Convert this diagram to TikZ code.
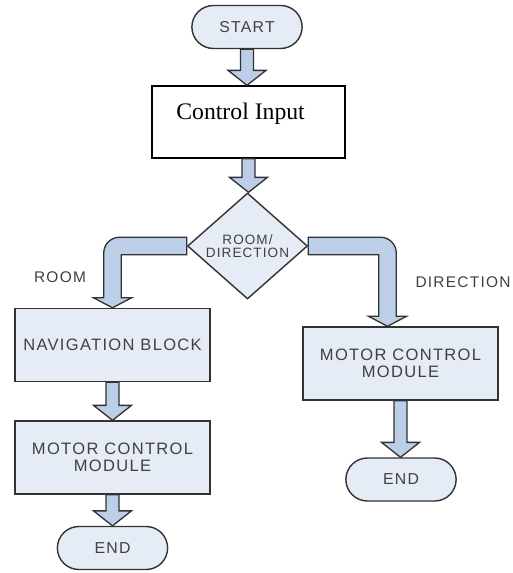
\documentclass[tikz,border=0pt]{standalone}
\usepackage{fontspec}
\setmainfont{Liberation Serif}
\setsansfont{Liberation Sans}[LetterSpace=8]
\usetikzlibrary{shapes.geometric,shapes.misc,calc}
\definecolor{boxfill}{RGB}{230,236,246}
\definecolor{arrowfill}{RGB}{188,206,232}
\definecolor{edgegray}{RGB}{50,50,50}
\definecolor{textgray}{RGB}{64,64,64}
\tikzstyle{terminal}=[rounded rectangle,draw=edgegray,fill=boxfill,line width=0.8pt,minimum width=2.44cm,minimum height=0.86cm,text=textgray,font=\sffamily\fontsize{9}{11}\selectfont]
\tikzstyle{process}=[rectangle,draw=edgegray,fill=boxfill,line width=0.8pt,minimum width=3.9cm,minimum height=1.46cm,align=center,text=textgray,font=\sffamily\fontsize{9.4}{9.8}\selectfont]
\tikzstyle{inputbox}=[rectangle,draw=black,fill=white,line width=0.8pt,minimum width=3.86cm,minimum height=1.44cm,font=\fontsize{13.5}{15}\selectfont,text height=9.5pt,text depth=12pt]
\tikzstyle{decision}=[diamond,draw=edgegray,fill=boxfill,line width=0.8pt,minimum width=2.4cm,minimum height=2.04cm,inner sep=0pt,align=center,text=textgray,font=\sffamily\fontsize{7.7}{7.4}\selectfont]
\tikzstyle{blockarrow}=[draw=edgegray,fill=arrowfill,line width=0.75pt,line join=miter]
\tikzstyle{branchlabel}=[font=\sffamily\fontsize{8.8}{11}\selectfont,text=textgray]

% straight block arrow from the bottom of one node to the top of the next
\newcommand{\blockdown}[2]{%
  \path[blockarrow] let \p1=(#1.south), \p2=(#2.north) in
    (\x1-3.7pt,\y1) -- (\x1+3.7pt,\y1) -- (\x1+3.7pt,\y2+8.5pt) -- (\x1+10.8pt,\y2+8.5pt)
    -- (\x1,\y2) -- (\x1-10.8pt,\y2+8.5pt) -- (\x1-3.7pt,\y2+8.5pt) -- cycle;}

\begin{document}
\begin{tikzpicture}[x=0.02cm,y=-0.02cm]
    \useasboundingbox (0,0) rectangle (512,573);

    % First we draw the terminals
    \foreach \pos/\name/\label in {{(247,27)/start/START}, {(112.5,548)/lend/END}, {(401,479.5)/rend/END}}
        \node[terminal] (\name) at \pos {\label};

    \node[inputbox] (input) at (248.5,122) {\hspace*{-9pt}Control Input};
    \node[decision] (choice) at (247.5,246) {ROOM/\\DIRECTION};

    % Then the process boxes
    \foreach \pos/\name/\label in {{(112.5,345)/nav/NAVIGATION BLOCK}, {(112.5,457.5)/lmotor/{MOTOR CONTROL\\MODULE}}, {(400.5,363.5)/rmotor/{MOTOR CONTROL\\MODULE}}}
        \node[process] (\name) at \pos {\label};

    % Branch labels
    \node[branchlabel] (roomlabel) at (60,277) {ROOM};
    \node[branchlabel] (dirlabel) at (463,282) {DIRECTION};

    % Connect the boxes with block arrows
    \foreach \source/\dest in {start/input, input/choice, nav/lmotor, lmotor/lend, rmotor/rend}
        \blockdown{\source}{\dest};

    % Bent arrows out of the decision
    \path[blockarrow] let \p1=(choice.west), \p2=(nav.north) in
        (\x1,\y1+5pt) -- (\x2+4pt,\y1+5pt) arc[start angle=90,end angle=180,radius=9pt]
        -- (\x2-5pt,\y2+5.7pt) -- (\x2-10.8pt,\y2+5.7pt) -- (\x2,\y2) -- (\x2+10.8pt,\y2+5.7pt)
        -- (\x2+5pt,\y2+5.7pt) -- (\x2+5pt,\y1-5pt) -- (\x1,\y1-5pt) -- cycle;
    \path[blockarrow] let \p1=(choice.east), \p2=([xshift=-7.4pt]rmotor.north) in
        (\x1,\y1+5pt) -- (\x2-4pt,\y1+5pt) arc[start angle=90,end angle=0,radius=9pt]
        -- (\x2+5pt,\y2+5.7pt) -- (\x2+10.8pt,\y2+5.7pt) -- (\x2,\y2) -- (\x2-10.8pt,\y2+5.7pt)
        -- (\x2-5pt,\y2+5.7pt) -- (\x2-5pt,\y1-5pt) -- (\x1,\y1-5pt) -- cycle;

\end{tikzpicture}
\end{document}
